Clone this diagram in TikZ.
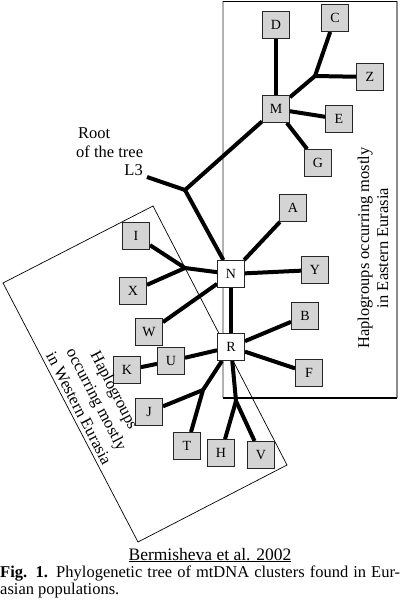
\documentclass[tikz,border=0pt]{standalone}
\usepackage{fontspec}
\setmainfont{Liberation Serif}
\pgfdeclarelayer{background}
\pgfsetlayers{background,main}
\begin{document}
\begin{tikzpicture}[x=1pt,y=-1pt,
  hg/.style={draw=black!85, line width=0.9pt, fill=black!17, minimum size=27pt, inner sep=0pt, font=\fontsize{14}{14}\selectfont},
  hw/.style={hg, fill=white},
  br/.style={line width=4pt},
  ann/.style={font=\fontsize{16.5}{19}\selectfont, inner sep=0pt},
  zone/.style={line width=0.7pt}]
\useasboundingbox (0,0) rectangle (400,602);

% haplogroup boxes
\node[hg] (D) at (276,25) {D};
\node[hg] (C) at (335,18) {C};
\node[hg] (Z) at (370,77) {Z};
\node[hg] (M) at (276,109) {M};
\node[hg] (E) at (339,119) {E};
\node[hg] (G) at (318,163) {G};
\node[hg] (A) at (293,208) {A};
\node[hw] (N) at (231,274) {N};
\node[hg] (Y) at (315,270) {Y};
\node[hg] (B) at (305,316) {B};
\node[hw] (R) at (231,347) {R};
\node[hg] (F) at (309,373) {F};
\node[hg] (H) at (221,453) {H};
\node[hg] (V) at (261,455) {V};
\node[hg] (T) at (187,446) {T};
\node[hg] (J) at (149,412) {J};
\node[hg] (K) at (127,370) {K};
\node[hg] (U) at (171,361) {U};
\node[hg] (W) at (149,332) {W};
\node[hg] (X) at (133,291) {X};
\node[hg] (I) at (136,236) {I};

% junctions
\coordinate (root) at (147,177);
\coordinate (j0) at (185,190);
\coordinate (jcz) at (315,76);
\coordinate (jix) at (185,268);
\coordinate (jjt) at (203,390);
\coordinate (jhv) at (236,401);

% zone frames
\coordinate (e1) at (223,1.2);
\coordinate (e2) at (397,1.2);
\coordinate (e3) at (397,398);
\coordinate (e4) at (223,398);
\coordinate (w1) at (153,206);
\coordinate (w2) at (287,465);
\coordinate (w3) at (138,542);
\coordinate (w4) at (3,283);

\begin{pgfonlayer}{background}
  \draw[zone, draw=black!30, line width=1.4pt] (e4) -- (e1);
  \draw[zone, draw=black!45, line width=1.4pt] (e2) -- (e3);
  \draw[zone, line width=1.2pt] (e1) -- (e2);
  \draw[zone, line width=1.2pt] (e3) -- (e4);
  \draw[zone] (w1) -- (w2) -- (w3) -- (w4) -- cycle;

  \draw[br] (root) -- (j0);
  \draw[br] (j0) -- (M);
  \draw[br] (j0) -- (N);
  \draw[br] (M) -- (D);
  \draw[br] (M) -- (jcz);
  \draw[br] (jcz) -- (C);
  \draw[br] (jcz) -- (Z);
  \draw[br] (M) -- (E);
  \draw[br] (M) -- (G);
  \draw[br] (N) -- (A);
  \draw[br] (N) -- (Y);
  \draw[br] (N) -- (jix);
  \draw[br] (jix) -- (I);
  \draw[br] (jix) -- (X);
  \draw[br] (N) -- (W);
  \draw[br] (N) -- (R);
  \draw[br] (R) -- (B);
  \draw[br] (R) -- (F);
  \draw[br] (R) -- (U);
  \draw[br] (U) -- (K);
  \draw[br] (R) -- (jjt);
  \draw[br] (jjt) -- (J);
  \draw[br] (jjt) -- (T);
  \draw[br] (R) -- (jhv);
  \draw[br] (jhv) -- (H);
  \draw[br] (jhv) -- (V);
\end{pgfonlayer}

% labels
\node[ann, anchor=base west] (rt1) at (78,138) {Root};
\node[ann, anchor=base west] (rt2) at (76,157) {of the tree};
\node[ann, anchor=base east] (rt3) at (143,175) {L3};

\node[ann, rotate=90, align=center] (east) at (373,248)
  {Haplogroups occurring mostly\\in Eastern Eurasia};
\node[ann, rotate=-62.6, align=center, font=\fontsize{16.5}{20}\selectfont] (west) at (97,399)
  {Haplogroups\\occurring mostly\\in Western Eurasia};

\node[ann, anchor=base, font=\fontsize{17.5}{19}\selectfont] (ref) at (210,560) {\underline{Bermisheva et al. 2002}};
\node[ann, anchor=base west] (cap1) at (0,577)
  {\makebox[400pt][s]{\textbf{Fig. 1.} Phylogenetic tree of mtDNA clusters found in Eur-}};
\node[ann, anchor=base west] (cap2) at (0,594) {asian populations.};
\end{tikzpicture}
\end{document}
